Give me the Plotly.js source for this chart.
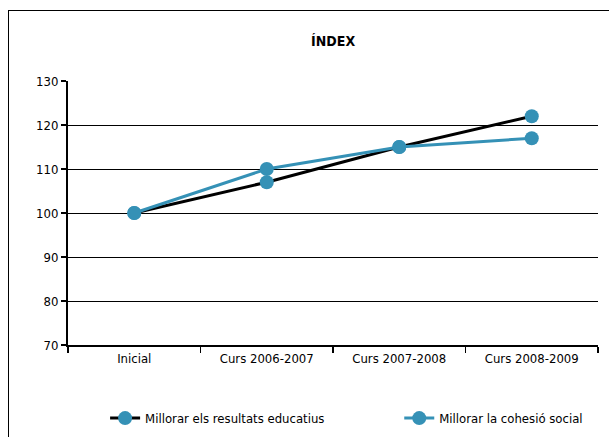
<!DOCTYPE html>
<html><head><meta charset="utf-8">
<script src="https://cdn.plot.ly/plotly-3.0.1.min.js"></script>
<style>
html,body{margin:0;padding:0;background:#fff;}
#wrap{position:relative;width:609px;height:437px;overflow:hidden;}
#frame{position:absolute;left:8px;top:10px;width:700px;height:500px;border:1.5px solid #000;box-sizing:border-box;}
#chart{position:absolute;left:0;top:0;width:609px;height:437px;}
</style></head>
<body><div id="wrap"><div id="frame"></div><div id="chart"></div></div>
<script>
const categories = ["Inicial", "Curs 2006-2007", "Curs 2007-2008", "Curs 2008-2009"];
const resultatsEducatius = [100, 107, 115, 122];
const cohesioSocial = [100, 110, 115, 117];
const seriesNames = ["Millorar els resultats educatius", "Millorar la cohesió social"];
const teal = "#3591b6";
const font = "'DejaVu Sans Condensed', 'Liberation Sans Narrow', sans-serif";

const traces = [
  {x: categories, y: resultatsEducatius, name: seriesNames[0], type: "scatter", mode: "lines+markers",
   line: {color: "#000", width: 3}, marker: {color: teal, size: 14}, legend: "legend"},
  {x: categories, y: cohesioSocial, name: seriesNames[1], type: "scatter", mode: "lines+markers",
   line: {color: teal, width: 3}, marker: {color: teal, size: 14}, legend: "legend2"}
];
const legendBase = {orientation: "h", xanchor: "left", y: -0.277, yanchor: "middle", font: {size: 13},
                    bgcolor: "rgba(0,0,0,0)"};
const layout = {
  width: 609, height: 437,
  margin: {l: 68, r: 11, t: 81, b: 92, autoexpand: false},
  paper_bgcolor: "rgba(0,0,0,0)", plot_bgcolor: "rgba(0,0,0,0)",
  font: {family: font, size: 13, color: "#000"},
  title: {text: "<b>ÍNDEX</b>", x: 0.547, xanchor: "center", y: 0.905, yanchor: "middle", font: {family: font, size: 14}},
  xaxis: {type: "category", tickson: "boundaries", ticks: "outside", ticklen: 6, tickcolor: "#000", tickwidth: 1.5,
          showgrid: false, showline: true, linecolor: "#000", linewidth: 2, zeroline: false,
          tickfont: {size: 13}, range: [-0.5, 3.5]},
  yaxis: {range: [70, 130], dtick: 10, ticks: "outside", ticklen: 5, tickcolor: "#000", tickwidth: 1.5,
          showgrid: true, gridcolor: "#000", gridwidth: 1, showline: true, linecolor: "#000", linewidth: 2,
          zeroline: false, tickfont: {size: 13}},
  showlegend: true,
  legend: Object.assign({}, legendBase, {x: 0.07}),
  legend2: Object.assign({}, legendBase, {x: 0.625})
};
Plotly.newPlot("chart", traces, layout, {displayModeBar: false, staticPlot: true});
</script></body></html>
